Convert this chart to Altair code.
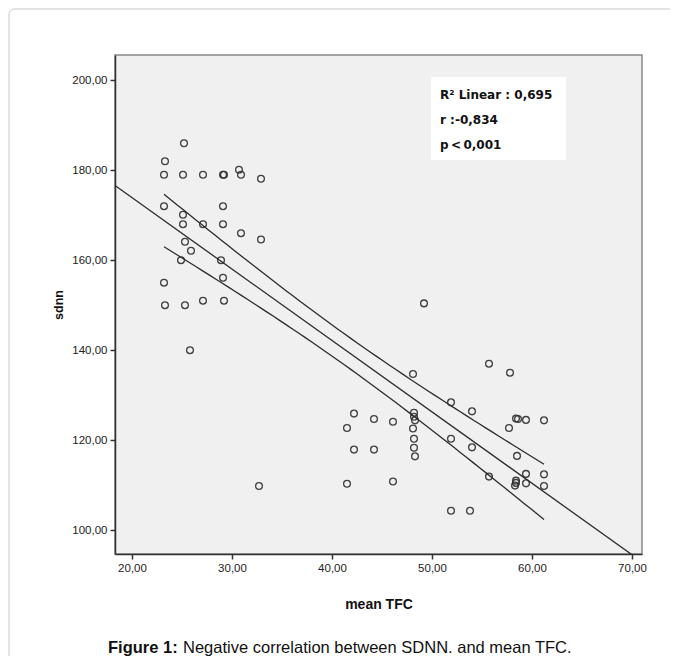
import altair as alt
import numpy as np
import pandas as pd

# ---- data ----
tfc = [25.2, 23.3, 23.2, 25.1, 27.1, 29.1, 29.2, 30.7, 30.9, 32.9,
       23.2, 29.1, 25.1, 25.1, 27.1, 29.1, 30.9, 32.9, 25.3, 25.9,
       24.9, 28.9, 29.1, 23.2, 23.3, 25.3, 27.1, 29.2, 25.8, 32.7,
       41.5, 42.2, 44.2, 46.1, 48.1, 48.2, 48.2, 48.3, 48.1, 48.2,
       48.2, 48.3, 42.2, 44.2, 41.5, 46.1, 49.2,
       51.9, 54.0, 55.7, 57.8, 58.4, 58.6, 59.4, 61.2, 57.7, 51.9,
       54.0, 58.5, 55.7, 59.4, 61.2, 58.4, 58.4, 58.3, 59.4, 61.2,
       51.9, 53.8]
sdnn = [186.0, 182.0, 179.0, 179.0, 179.0, 179.0, 179.0, 180.1, 179.0, 178.1,
        172.0, 172.0, 170.1, 168.0, 168.0, 168.0, 166.0, 164.6, 164.1, 162.1,
        160.0, 160.0, 156.1, 155.0, 150.0, 150.0, 151.0, 151.0, 140.0, 109.8,
        122.7, 125.9, 124.7, 124.1, 134.7, 126.1, 125.2, 124.4, 122.6, 120.3,
        118.3, 116.4, 117.9, 117.9, 110.3, 110.8, 150.4,
        128.4, 126.4, 137.0, 135.0, 124.8, 124.7, 124.5, 124.4, 122.7, 120.3,
        118.4, 116.5, 111.9, 112.5, 112.4, 111.0, 110.5, 109.9, 110.4, 109.8,
        104.3, 104.3]

x_ticks = [20, 30, 40, 50, 60, 70]
y_ticks = [100, 120, 140, 160, 180, 200]
x_domain = [18.3, 71.0]
y_domain = [94.7, 205.6]

stats_lines = ["R² Linear : 0,695", "r :-0,834", "p\u2009<\u20090,001"]
caption_bold = "Figure 1:"
caption_rest = "Negative correlation between SDNN. and mean TFC."
x_title = "mean TFC"
y_title = "sdnn"

# ---- derived: OLS fit and 95% mean confidence interval ----
xa = np.array(tfc)
ya = np.array(sdnn)
n = len(xa)
slope, intercept = np.polyfit(xa, ya, 1)
resid = ya - (intercept + slope * xa)
s = np.sqrt((resid ** 2).sum() / (n - 2))
xbar = xa.mean()
sxx = ((xa - xbar) ** 2).sum()
t_crit = 1.996

gx = np.linspace(xa.min(), xa.max(), 60)
half = t_crit * s * np.sqrt(1.0 / n + (gx - xbar) ** 2 / sxx)
ci_df = pd.concat([
    pd.DataFrame({"tfc": gx, "sdnn": intercept + slope * gx + half, "band": "upper"}),
    pd.DataFrame({"tfc": gx, "sdnn": intercept + slope * gx - half, "band": "lower"}),
])
fx = np.array(x_domain)
fit_df = pd.DataFrame({"tfc": fx, "sdnn": intercept + slope * fx})

pts = pd.DataFrame({"tfc": tfc, "sdnn": sdnn})

fmt = "replace(format(datum.value, '.2f'), '.', ',')"

xenc = alt.X("tfc:Q", scale=alt.Scale(domain=x_domain, nice=False, zero=False),
             axis=alt.Axis(values=x_ticks, labelExpr=fmt, title=x_title,
                           titleFontSize=14, titlePadding=24, labelPadding=3))
yenc = alt.Y("sdnn:Q", scale=alt.Scale(domain=y_domain, nice=False, zero=False),
             axis=alt.Axis(values=y_ticks, labelExpr=fmt, title=y_title,
                           titleFontSize=12.5, titlePadding=6, labelPadding=3))

one = pd.DataFrame({"k": [0]})

card = alt.Chart(one).mark_rect(
    fill=None, stroke="#c8c8c8", strokeWidth=1, cornerRadius=6
).encode(x=alt.value(-106), x2=alt.value(700), y=alt.value(-46), y2=alt.value(700))

fit = alt.Chart(fit_df).mark_line(color="#2b2b2b", strokeWidth=1.3, clip=True).encode(
    x=xenc, y=yenc)
ci = alt.Chart(ci_df).mark_line(color="#2b2b2b", strokeWidth=1.3).encode(
    x="tfc:Q", y="sdnn:Q", detail="band:N")

points = alt.Chart(pts).mark_point(
    shape="circle", filled=False, size=46, color="#2f2f2f", strokeWidth=1.3, opacity=0.9
).encode(x="tfc:Q", y="sdnn:Q")

box = alt.Chart(one).mark_rect(fill="white").encode(
    x=alt.value(316), x2=alt.value(451), y=alt.value(22), y2=alt.value(105))

stat_layers = []
for i, line in enumerate(stats_lines):
    stat_layers.append(alt.Chart(one).mark_text(
        align="left", baseline="middle", font="DejaVu Sans", fontWeight="bold",
        fontSize=12, color="#111"
    ).encode(x=alt.value(325), y=alt.value(40 + 25 * i), text=alt.value(line)))

cap1 = alt.Chart(one).mark_text(
    align="left", baseline="middle", font="Liberation Sans", fontWeight="bold",
    fontSize=16.5, color="#111"
).encode(x=alt.value(-7), y=alt.value(593), text=alt.value(caption_bold))
cap2 = alt.Chart(one).mark_text(
    align="left", baseline="middle", font="Liberation Sans",
    fontSize=16.5, color="#111"
).encode(x=alt.value(68), y=alt.value(593), text=alt.value(caption_rest))

chart = alt.layer(card, fit, ci, points, box, *stat_layers, cap1, cap2).properties(
    width=527, height=499,
    autosize=alt.AutoSizeParams(type="none"),
    padding={"left": 107, "top": 47, "right": 28, "bottom": 102},
    background="white",
).configure_view(
    fill="#f0f0f0", stroke="#888", strokeWidth=1.5
).configure_axis(
    domainColor="#333", domainWidth=1.5, tickColor="#333", tickWidth=1.5, tickSize=5,
    labelFont="Liberation Sans", labelFontSize=11.5, labelColor="#222", grid=False,
    titleFont="Liberation Sans", titleFontWeight="bold", titleColor="#111"
)

chart.save("out.html", embed_options={"renderer": "svg", "actions": False})
